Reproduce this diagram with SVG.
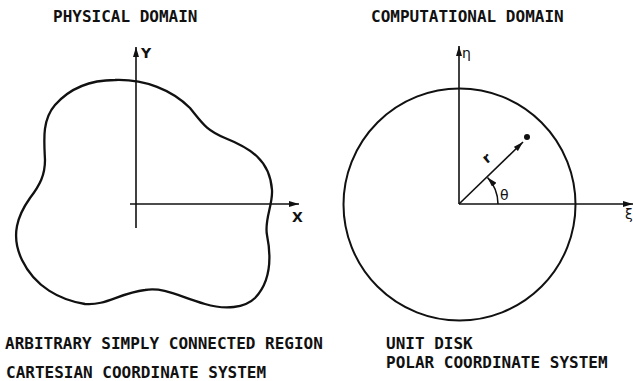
<svg xmlns="http://www.w3.org/2000/svg" width="633" height="381" viewBox="0 0 633 381">
<style>
.t{font-family:"DejaVu Sans Mono","Liberation Mono",monospace;font-size:16px;font-weight:bold;fill:#111;}
.lbl{font-family:"DejaVu Sans","Liberation Sans",sans-serif;font-size:14px;fill:#111;}
.b{font-weight:bold;}
.ax{stroke:#111;stroke-width:1.6;fill:none;}
.sh{stroke:#111;stroke-width:2.3;fill:none;}
</style>
<defs>
<marker id="ah" viewBox="0 0 10 6" refX="10" refY="3" markerWidth="10" markerHeight="6" markerUnits="userSpaceOnUse" orient="auto">
<path d="M0,0 L10,3 L0,6 Z" fill="#111"/>
</marker>
</defs>
<g id="physical-domain">
<text class="t" x="53" y="22">PHYSICAL DOMAIN</text>
<path id="region" class="sh" d="M115 80 C145 79 172 90 190 108 C203 124 206 130 225 138 C250 148 270 160 272 190 C273 205 264 220 267 235 C271 255 272 280 255 298 C245 308 225 310 205 304 C180 297 165 287 145 290 C120 293 105 306 85 304 C60 300 35 287 22 260 C10 235 18 215 30 198 C40 185 45 175 45 160 C44 140 42 120 55 105 C70 88 90 80 115 80 Z"/>
<text class="t" x="5" y="349">ARBITRARY SIMPLY CONNECTED REGION</text>
<text class="t" x="6" y="378">CARTESIAN COORDINATE SYSTEM</text>
</g>
<g id="computational-domain">
<text class="t" x="371" y="22">COMPUTATIONAL DOMAIN</text>
<circle id="unit-disk" cx="459.5" cy="204.5" r="116" stroke="#111" stroke-width="2" fill="none"/>
<circle id="point" cx="527" cy="137" r="3" fill="#111"/>
<text class="t" x="386" y="349">UNIT DISK</text>
<text class="t" x="386" y="368">POLAR COORDINATE SYSTEM</text>
</g>
<g id="connectors">
<line class="ax" x1="136" y1="228" x2="136" y2="47" marker-end="url(#ah)"/>
<line class="ax" x1="130" y1="204" x2="299" y2="204" marker-end="url(#ah)"/>
<line class="ax" x1="459" y1="204" x2="459" y2="46" marker-end="url(#ah)"/>
<line class="ax" x1="459" y1="204" x2="633" y2="204" marker-end="url(#ah)"/>
<line class="ax" x1="459" y1="204" x2="523" y2="142" marker-end="url(#ah)"/>
<path class="ax" d="M498 204 A39 39 0 0 0 487.5 177.5" marker-end="url(#ah)"/>
</g>
<g id="labels">
<text class="lbl b" x="141" y="58">Y</text>
<text class="lbl b" x="292" y="222">X</text>
<text class="lbl" x="462" y="58">η</text>
<text class="lbl" x="625" y="219">ξ</text>
<text class="lbl" x="500" y="200">θ</text>
<text class="lbl b" transform="translate(487,164) rotate(-40)">r</text>
</g>
</svg>
